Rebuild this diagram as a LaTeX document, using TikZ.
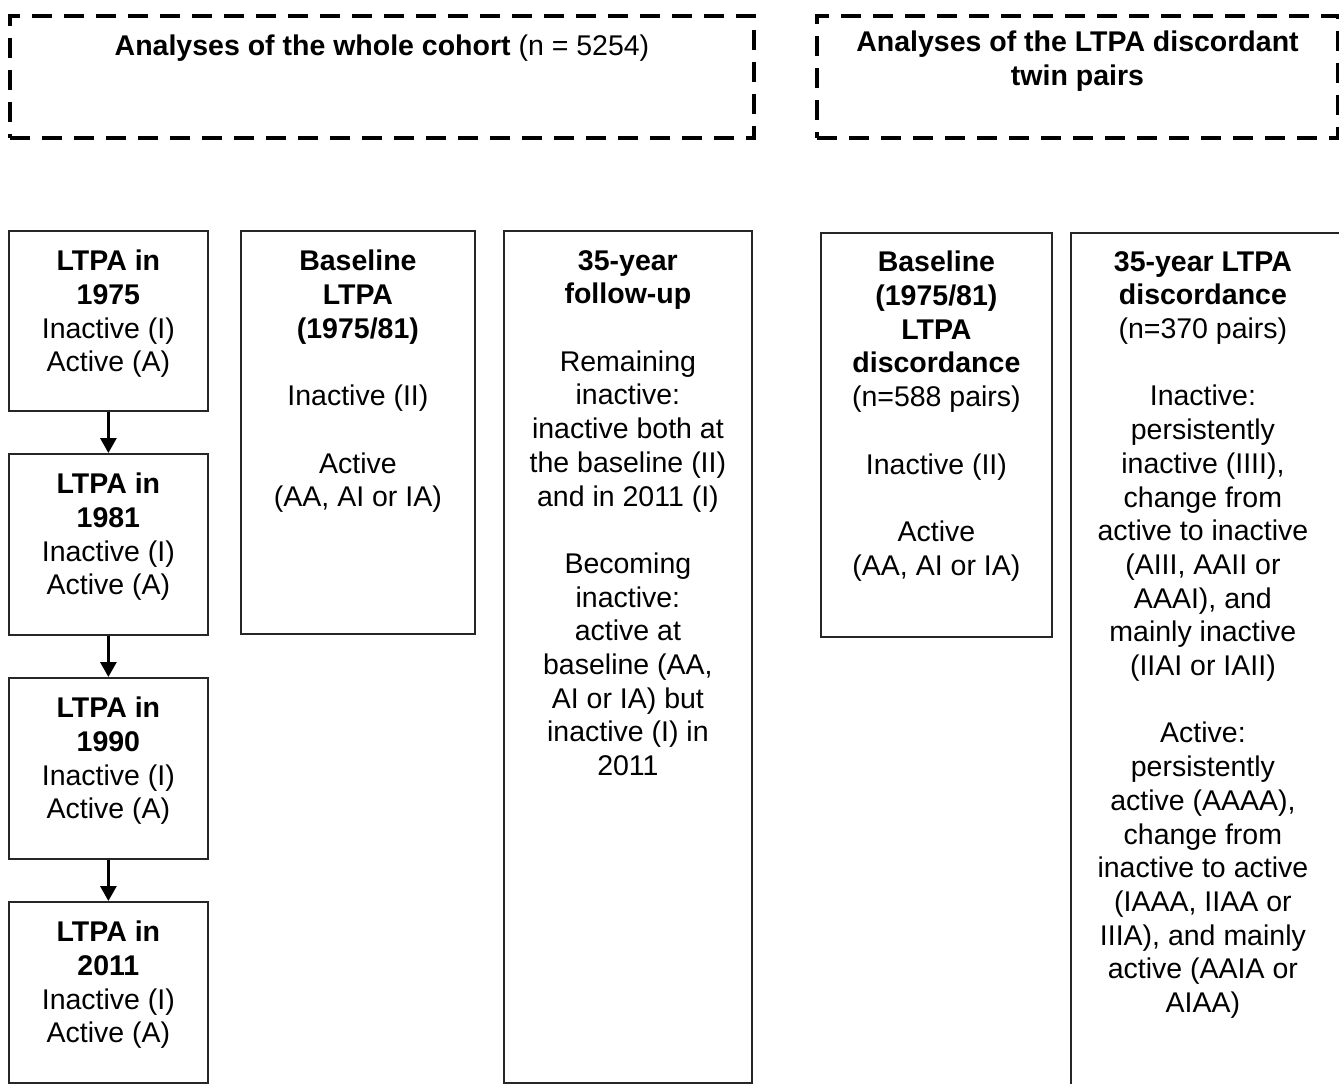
\documentclass[tikz,border=0pt]{standalone}
\usepackage{fontspec}
\setmainfont{Liberation Sans}
\usetikzlibrary{arrows.meta}
\newlength{\gapl}
\setlength{\gapl}{33.7pt}
\tikzset{
  x=1pt, y=-1pt,
  solidbox/.style={draw=black!85, line width=1.8pt, rectangle, inner sep=0pt, anchor=north west},
  dashbox/.style={draw=black, line width=4pt, dash pattern=on 20pt off 12pt, rectangle, inner sep=0pt, anchor=north west},
  txt/.style={font=\fontsize{28.5}{33.7}\selectfont, align=center, inner sep=0pt, anchor=north},
  flow/.style={line width=3pt, -{Triangle[length=15pt,width=16pt]}}
}
\begin{document}
\begin{tikzpicture}
\useasboundingbox (0,0) rectangle (1339,1084);
% dashed group boxes
\node[dashbox, minimum width=744pt, minimum height=122pt] (g1) at (8,14) {};
\node[dashbox, minimum width=521pt, minimum height=122pt] (g2) at (815,14) {};
\node[txt] (g1t) at ([yshift=-21pt]g1.north) {\textbf{Analyses of the whole cohort} (n = 5254)};
\node[txt] (g2t) at ([yshift=-17pt]g2.north) {\textbf{Analyses of the LTPA discordant}\\\textbf{twin pairs}};
% column 1
\node[solidbox, minimum width=199pt, minimum height=180pt] (a) at (8,230) {};
\node[solidbox, minimum width=199pt, minimum height=181pt] (b) at (8,453) {};
\node[solidbox, minimum width=199pt, minimum height=181pt] (c) at (8,677) {};
\node[solidbox, minimum width=199pt, minimum height=181pt] (d) at (8,901) {};
\node[txt] (at) at ([yshift=-20pt]a.north) {\textbf{LTPA in}\\\textbf{1975}\\Inactive (I)\\Active (A)};
\node[txt] (bt) at ([yshift=-20pt]b.north) {\textbf{LTPA in}\\\textbf{1981}\\Inactive (I)\\Active (A)};
\node[txt] (ct) at ([yshift=-20pt]c.north) {\textbf{LTPA in}\\\textbf{1990}\\Inactive (I)\\Active (A)};
\node[txt] (dt) at ([yshift=-20pt]d.north) {\textbf{LTPA in}\\\textbf{2011}\\Inactive (I)\\Active (A)};
\draw[flow] (a.south) -- (b.north);
\draw[flow] (b.south) -- (c.north);
\draw[flow] (c.south) -- (d.north);
% column 2
\node[solidbox, minimum width=234pt, minimum height=403pt] (e) at (240,230) {};
\node[txt] (et) at ([yshift=-20pt]e.north) {\textbf{Baseline}\\\textbf{LTPA}\\\textbf{(1975/81)}\\[\gapl]Inactive (II)\\[\gapl]Active\\(AA, AI or IA)};
% column 3
\node[solidbox, minimum width=248pt, minimum height=852pt] (f) at (503,230) {};
\node[txt] (ft) at ([yshift=-20pt]f.north) {\textbf{35-year}\\\textbf{follow-up}\\[\gapl]Remaining\\inactive:\\inactive both at\\the baseline (II)\\and in 2011 (I)\\[\gapl]Becoming\\inactive:\\active at\\baseline (AA,\\AI or IA) but\\inactive (I) in\\2011};
% column 4
\node[solidbox, minimum width=231pt, minimum height=404pt] (g) at (820,232) {};
\node[txt] (gt) at ([yshift=-19pt]g.north) {\textbf{Baseline}\\\textbf{(1975/81)}\\\textbf{LTPA}\\\textbf{discordance}\\(n=588 pairs)\\[\gapl]Inactive (II)\\[\gapl]Active\\(AA, AI or IA)};
% column 5
\node[solidbox, minimum width=274pt, minimum height=870pt] (h) at (1070,232) {};
\node[txt] (ht) at ([yshift=-19pt, xshift=-5pt]h.north) {\textbf{35-year LTPA}\\\textbf{discordance}\\(n=370 pairs)\\[\gapl]Inactive:\\persistently\\inactive (IIII),\\change from\\active to inactive\\(AIII, AAII or\\AAAI), and\\mainly inactive\\(IIAI or IAII)\\[\gapl]Active:\\persistently\\active (AAAA),\\change from\\inactive to active\\(IAAA, IIAA or\\IIIA), and mainly\\active (AAIA or\\AIAA)};
\end{tikzpicture}
\end{document}
